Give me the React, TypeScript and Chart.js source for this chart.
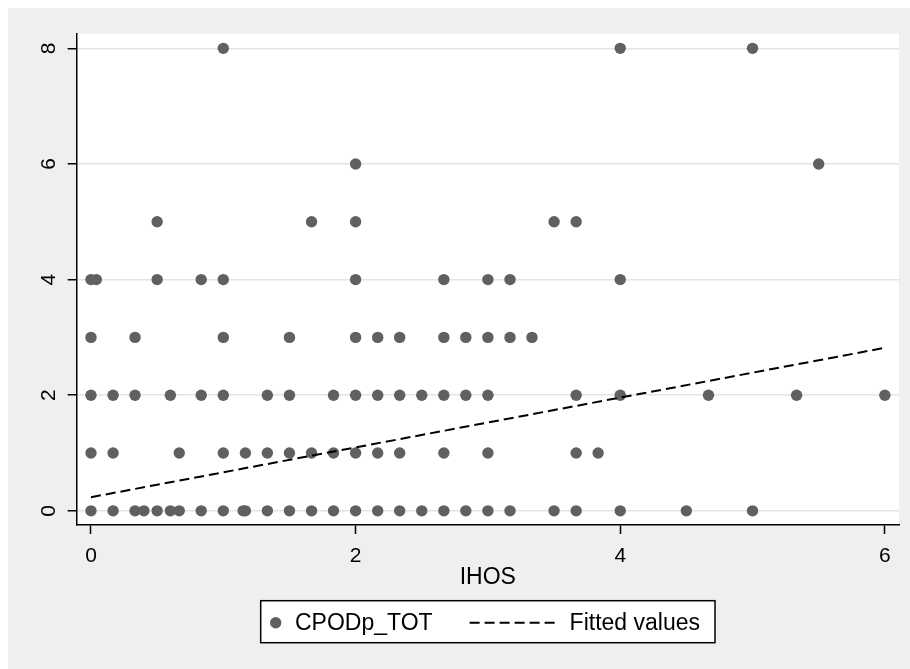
import React, { useEffect, useRef } from "react";
import { Chart, registerables } from "chart.js";

Chart.register(...registerables);

// IHOS values of the observations, grouped by their CPODp_TOT count
const ihosAtCount0 = [0, 0.167, 0.333, 0.4, 0.5, 0.6, 0.667, 0.833, 1, 1.15, 1.167, 1.333, 1.5, 1.667, 1.833, 2, 2.167, 2.333, 2.5, 2.667, 2.833, 3, 3.167, 3.5, 3.667, 4, 4.5, 5];
const ihosAtCount1 = [0, 0.167, 0.667, 1, 1.167, 1.333, 1.5, 1.667, 1.833, 2, 2.167, 2.333, 2.667, 3, 3.667, 3.833];
const ihosAtCount2 = [0, 0.167, 0.333, 0.6, 0.833, 1, 1.333, 1.5, 1.833, 2, 2.167, 2.333, 2.5, 2.667, 2.833, 3, 3.667, 4, 4.667, 5.333, 6];
const ihosAtCount3 = [0, 0.333, 1, 1.5, 2, 2.167, 2.333, 2.667, 2.833, 3, 3.167, 3.333];
const ihosAtCount4 = [0, 0.04, 0.5, 0.833, 1, 2, 2.667, 3, 3.167, 4];
const ihosAtCount5 = [0.5, 1.667, 2, 3.5, 3.667];
const ihosAtCount6 = [2, 5.5];
const ihosAtCount8 = [1, 4, 5];

const countLevels = [0, 1, 2, 3, 4, 5, 6, 8];
const ihosByLevel = [ihosAtCount0, ihosAtCount1, ihosAtCount2, ihosAtCount3, ihosAtCount4, ihosAtCount5, ihosAtCount6, ihosAtCount8];

// Fitted regression line (end points)
const fitX = [0, 6];
const fitY = [0.236, 2.82];

const xTicks = [0, 2, 4, 6];
const yTicks = [0, 2, 4, 6, 8];
const xRange = [-0.108, 6.107];
const yRange = [-0.245, 8.255];

const scatterLabel = "CPODp_TOT";
const fitLabel = "Fitted values";
const xTitle = "IHOS";

const FONT = '"Liberation Sans", Arial, Helvetica, sans-serif';
const POINT_COLOR = "#606060";
const POINT_R = 5.7;

const plotBgPlugin = {
  id: "plotBg",
  beforeDraw(chart: any) {
    const { ctx, chartArea } = chart;
    ctx.save();
    ctx.fillStyle = "#ffffff";
    ctx.fillRect(chartArea.left, chartArea.top, chartArea.right - chartArea.left, chartArea.bottom - chartArea.top);
    ctx.restore();
  },
};

const stataLegendPlugin = {
  id: "stataLegend",
  afterDraw(chart: any) {
    const { ctx, chartArea } = chart;
    const xScale = chart.scales.x;
    ctx.save();
    ctx.font = `23px ${FONT}`;
    const w1 = ctx.measureText(scatterLabel).width;
    const w2 = ctx.measureText(fitLabel).width;
    const padL = 9.3, gapDot = 13.6, gapItems = 37, lineLen = 85, gapLine = 15, padR = 15;
    const totalW = padL + 2 * POINT_R + gapDot + w1 + gapItems + lineLen + gapLine + w2 + padR;
    const cx = (chartArea.left + chartArea.right) / 2;
    const left = cx - totalW / 2;
    const top = xScale.bottom + 5.7;
    const h = 42;
    ctx.fillStyle = "#ffffff";
    ctx.fillRect(left, top, totalW, h);
    ctx.strokeStyle = "#000000";
    ctx.lineWidth = 1.5;
    ctx.strokeRect(left, top, totalW, h);
    const midY = top + h / 2 + 1;
    let x = left + padL;
    ctx.fillStyle = POINT_COLOR;
    ctx.beginPath();
    ctx.arc(x + POINT_R, midY, POINT_R, 0, Math.PI * 2);
    ctx.fill();
    x += 2 * POINT_R + gapDot;
    ctx.fillStyle = "#000000";
    ctx.textBaseline = "middle";
    ctx.textAlign = "left";
    ctx.fillText(scatterLabel, x, midY + 1);
    x += w1 + gapItems;
    ctx.setLineDash([10, 5]);
    ctx.lineWidth = 2;
    ctx.beginPath();
    ctx.moveTo(x, midY);
    ctx.lineTo(x + lineLen, midY);
    ctx.stroke();
    ctx.setLineDash([]);
    x += lineLen + gapLine;
    ctx.fillText(fitLabel, x, midY + 1);
    ctx.restore();
  },
};

export default function App() {
  const canvasRef = useRef<HTMLCanvasElement | null>(null);

  useEffect(() => {
    if (!canvasRef.current) return;
    const points: { x: number; y: number }[] = [];
    countLevels.forEach((lvl, i) => {
      ihosByLevel[i].forEach((ih) => points.push({ x: ih, y: lvl }));
    });
    const fitPoints = fitX.map((x, i) => ({ x, y: fitY[i] }));

    const chart = new Chart(canvasRef.current, {
      type: "scatter",
      data: {
        datasets: [
          {
            label: fitLabel,
            data: fitPoints,
            showLine: true,
            borderColor: "#000000",
            borderWidth: 2,
            borderDash: [10, 5],
            pointRadius: 0,
            pointHoverRadius: 0,
            fill: false,
            order: 0,
          } as any,
          {
            label: scatterLabel,
            data: points,
            backgroundColor: POINT_COLOR,
            borderWidth: 0,
            pointRadius: POINT_R,
            pointHoverRadius: POINT_R,
            order: 1,
          },
        ],
      },
      options: {
        responsive: false,
        animation: false,
        events: [],
        layout: { padding: { top: 24, right: 11, left: 0, bottom: 74 } },
        plugins: {
          legend: { display: false },
          tooltip: { enabled: false },
        },
        scales: {
          x: {
            type: "linear",
            min: xRange[0],
            max: xRange[1],
            afterBuildTicks: (s: any) => {
              s.ticks = xTicks.map((v) => ({ value: v }));
            },
            afterFit: (s: any) => {
              s.height = 70;
            },
            border: { display: true, color: "#000000", width: 1.5 },
            grid: {
              drawOnChartArea: false,
              drawTicks: true,
              tickLength: 9,
              tickWidth: 1.5,
              tickColor: "#000000",
            },
            ticks: {
              color: "#000000",
              font: { family: FONT, size: 21 },
              padding: 10,
              maxRotation: 0,
              minRotation: 0,
              callback: (v: any) => String(v),
            },
            title: {
              display: true,
              text: xTitle,
              color: "#000000",
              font: { family: FONT, size: 23 },
              padding: { top: 0, bottom: 3.5 },
            },
          },
          y: {
            type: "linear",
            min: yRange[0],
            max: yRange[1],
            afterBuildTicks: (s: any) => {
              s.ticks = yTicks.map((v) => ({ value: v }));
            },
            afterFit: (s: any) => {
              s.width = 68.7;
            },
            border: { display: true, color: "#000000", width: 1.5 },
            grid: {
              drawOnChartArea: true,
              color: "#e4e4e4",
              lineWidth: 1.5,
              drawTicks: true,
              tickLength: 9,
              tickWidth: 1.5,
              tickColor: "#000000",
            },
            ticks: {
              color: "#000000",
              font: { family: FONT, size: 21 },
              padding: 13,
              minRotation: 90,
              maxRotation: 90,
              crossAlign: "center",
              callback: (v: any) => String(v),
            },
          },
        },
      },
      plugins: [plotBgPlugin, stataLegendPlugin],
    });
    return () => chart.destroy();
  }, []);

  return (
    <div
      style={{
        position: "fixed",
        left: 8,
        top: 8,
        width: 902,
        height: 661,
        background: "#efefef",
      }}
    >
      <canvas ref={canvasRef} width={902} height={661} style={{ display: "block" }} />
    </div>
  );
}
